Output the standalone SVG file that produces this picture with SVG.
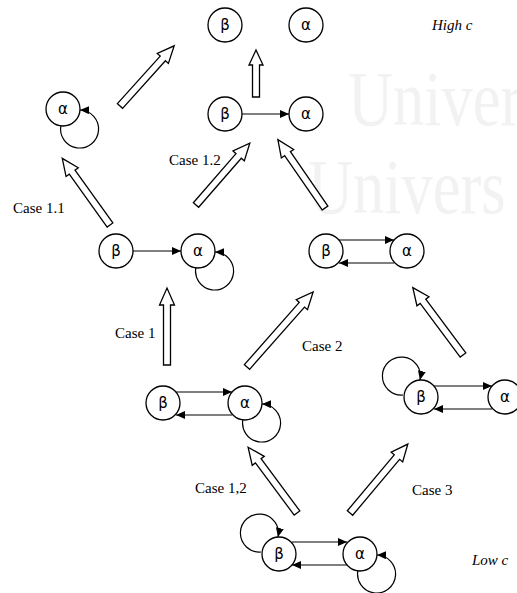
<svg xmlns="http://www.w3.org/2000/svg" width="517" height="593" viewBox="0 0 517 593">
<style>
.n circle{fill:#fff;stroke:#000;stroke-width:1.3}
.n text{font-family:"DejaVu Sans",sans-serif;font-size:15px;text-anchor:middle;fill:#000}
.e{fill:none;stroke:#000;stroke-width:1.2}
.ea{marker-end:url(#ah)}
.ba{fill:#fff;stroke:#000;stroke-width:1.3;stroke-linejoin:miter}
.lb{font-family:"Liberation Serif",serif;font-size:15px;fill:#000}
.it{font-style:italic}
.wm{font-family:"Liberation Serif",serif;font-size:78px;fill:#f2f2f2}
</style>
<defs>
<marker id="ah" markerWidth="10" markerHeight="8" refX="9" refY="4" orient="auto" markerUnits="userSpaceOnUse">
<path d="M0,0 L9,4 L0,8 Z" fill="#000"/>
</marker>
</defs>
<rect width="517" height="593" fill="#fff"/>
<g id="watermark" transform="scale(0.8,1)">
<text class="wm" x="435" y="125">Univer</text>
<text class="wm" x="385" y="213">Univers</text>
</g>

<g id="block-arrows">
<polygon class="ba" transform="translate(120,106) rotate(-48)" points="0,-3.5 64,-3.5 64,-7.5 81,0 64,7.5 64,3.5 0,3.5"/>
<polygon class="ba" transform="translate(256,97) rotate(-90)" points="0,-3.5 32,-3.5 32,-7 47,0 32,7 32,3.5 0,3.5"/>
<polygon class="ba" transform="translate(110,225) rotate(-125.6)" points="0,-3.5 65,-3.5 65,-7.5 82,0 65,7.5 65,3.5 0,3.5"/>
<polygon class="ba" transform="translate(196,205) rotate(-49)" points="0,-3.5 65,-3.5 65,-7.5 82,0 65,7.5 65,3.5 0,3.5"/>
<polygon class="ba" transform="translate(325,208) rotate(-124.6)" points="0,-3.5 66,-3.5 66,-7.5 83,0 66,7.5 66,3.5 0,3.5"/>
<polygon class="ba" transform="translate(167,365) rotate(-90)" points="0,-3.5 60,-3.5 60,-7.5 77,0 60,7.5 60,3.5 0,3.5"/>
<polygon class="ba" transform="translate(247,367) rotate(-48.6)" points="0,-3.5 83,-3.5 83,-7.5 100,0 83,7.5 83,3.5 0,3.5"/>
<polygon class="ba" transform="translate(463,355) rotate(-126.7)" points="0,-3.5 67,-3.5 67,-7.5 84,0 67,7.5 67,3.5 0,3.5"/>
<polygon class="ba" transform="translate(297,513) rotate(-126.6)" points="0,-3.5 65,-3.5 65,-7.5 82,0 65,7.5 65,3.5 0,3.5"/>
<polygon class="ba" transform="translate(350,513) rotate(-50)" points="0,-3.5 73,-3.5 73,-7.5 90,0 73,7.5 73,3.5 0,3.5"/>
</g>

<g id="connectors">
<path class="e ea" d="M242,114 L289,114"/>
<path class="e ea" d="M61,125 A19,19 0 1 0 80,110"/>
<path class="e ea" d="M133,251 L181,251"/>
<path class="e ea" d="M196,267 A19,19 0 1 0 215,252"/>
<path class="e ea" d="M339,240 L394,240"/>
<path class="e ea" d="M394,263 L339,263"/>
<path class="e ea" d="M176,392 L232,392"/>
<path class="e ea" d="M232,415 L176,415"/>
<path class="e ea" d="M243,419 A19,19 0 1 0 262,404"/>
<path class="e ea" d="M434,386 L492,386"/>
<path class="e ea" d="M492,409 L434,409"/>
<path class="e ea" d="M403,395 A19,19 0 1 1 420,380"/>
<path class="e ea" d="M292,542 L347,542"/>
<path class="e ea" d="M347,565 L292,565"/>
<path class="e ea" d="M261,552 A19,19 0 1 1 278,537"/>
<path class="e ea" d="M358,570 A19,19 0 1 0 377,555"/>
</g>

<g id="n-top-beta" class="n"><circle cx="225" cy="25" r="17"/><text x="225" y="30">β</text></g>
<g id="n-top-alpha" class="n"><circle cx="306" cy="25" r="17"/><text x="306" y="30">α</text></g>
<g id="n-t2-beta" class="n"><circle cx="225" cy="114" r="17"/><text x="225" y="119">β</text></g>
<g id="n-t2-alpha" class="n"><circle cx="306" cy="114" r="17"/><text x="306" y="119">α</text></g>
<g id="n-left-alpha" class="n"><circle cx="63" cy="109" r="17"/><text x="63" y="114">α</text></g>
<g id="n-ml-beta" class="n"><circle cx="116" cy="251" r="17"/><text x="116" y="256">β</text></g>
<g id="n-ml-alpha" class="n"><circle cx="198" cy="251" r="17"/><text x="198" y="256">α</text></g>
<g id="n-mr-beta" class="n"><circle cx="326" cy="251" r="17"/><text x="326" y="256">β</text></g>
<g id="n-mr-alpha" class="n"><circle cx="407" cy="251" r="17"/><text x="407" y="256">α</text></g>
<g id="n-ll-beta" class="n"><circle cx="163" cy="403" r="17"/><text x="163" y="408">β</text></g>
<g id="n-ll-alpha" class="n"><circle cx="245" cy="403" r="17"/><text x="245" y="408">α</text></g>
<g id="n-lr-beta" class="n"><circle cx="421" cy="397" r="17"/><text x="421" y="402">β</text></g>
<g id="n-lr-alpha" class="n"><circle cx="505" cy="397" r="17"/><text x="505" y="402">α</text></g>
<g id="n-b-beta" class="n"><circle cx="279" cy="554" r="17"/><text x="279" y="559">β</text></g>
<g id="n-b-alpha" class="n"><circle cx="360" cy="554" r="17"/><text x="360" y="559">α</text></g>

<g id="labels">
<text class="lb it" x="432" y="30">High c</text>
<text class="lb it" x="472" y="565">Low c</text>
<text class="lb" x="13" y="213">Case 1.1</text>
<text class="lb" x="169" y="165">Case 1.2</text>
<text class="lb" x="115" y="338">Case 1</text>
<text class="lb" x="302" y="351">Case 2</text>
<text class="lb" x="195" y="493">Case 1,2</text>
<text class="lb" x="412" y="495">Case 3</text>
</g>
</svg>
